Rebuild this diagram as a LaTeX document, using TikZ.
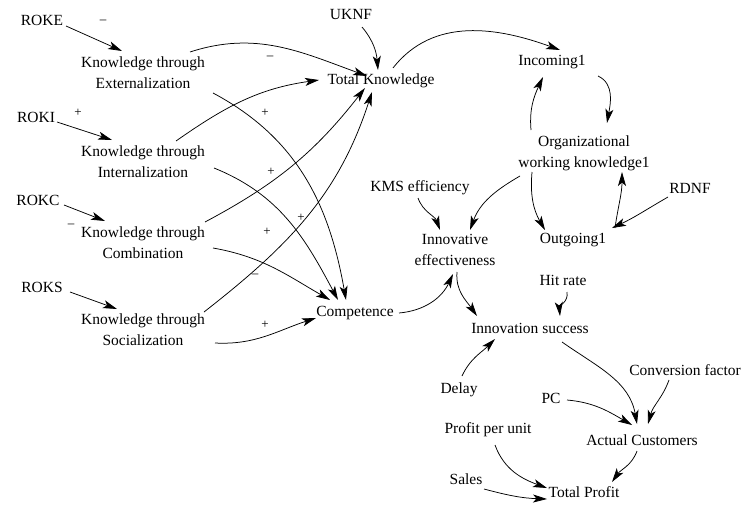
\documentclass[tikz,border=0pt]{standalone}
\usepackage{fontspec}
\setmainfont{Liberation Serif}
\usetikzlibrary{arrows.meta,calc}
\begin{document}
\begin{tikzpicture}[x=1pt,y=1pt,
  lbl/.style={inner sep=1pt,align=center,font=\fontsize{15.5}{21}\selectfont},
  pol/.style={inner sep=0pt,font=\fontsize{13}{13}\selectfont},
  arr/.style={-{Stealth[length=14pt,width=8pt,inset=3.5pt]},line width=0.75pt}]
\useasboundingbox[fill=white] (0,0) rectangle (741,-506);
% nodes
\node[lbl] (roke) at (42,-20) {ROKE};
\node[lbl] (kte) at (143,-73) {Knowledge through\\Externalization};
\node[lbl] (uknf) at (351,-15) {UKNF};
\node[lbl] (tk) at (381,-81) {Total Knowledge};
\node[lbl] (inc) at (552,-62) {Incoming1};
\node[lbl] (roki) at (36,-117) {ROKI};
\node[lbl] (kti) at (143,-162) {Knowledge through\\Internalization};
\node[lbl] (org) at (584,-153) {Organizational\\working knowledge1};
\node[lbl] (kms) at (420,-188) {KMS efficiency};
\node[lbl] (rdnf) at (690,-188) {RDNF};
\node[lbl] (rokc) at (38,-200) {ROKC};
\node[lbl] (ktc) at (143,-243) {Knowledge through\\Combination};
\node[lbl] (ie) at (455,-250) {Innovative\\effectiveness};
\node[lbl] (out) at (573,-240) {Outgoing1};
\node[lbl] (hit) at (563,-280) {Hit rate};
\node[lbl] (roks) at (42,-287) {ROKS};
\node[lbl] (comp) at (355,-313) {Competence};
\node[lbl] (kts) at (143,-330) {Knowledge through\\Socialization};
\node[lbl] (is) at (530,-328) {Innovation success};
\node[lbl] (conv) at (685,-370) {Conversion factor};
\node[lbl] (delay) at (459,-390) {Delay};
\node[lbl] (pc) at (551,-398) {PC};
\node[lbl] (ppu) at (488,-430) {Profit per unit};
\node[lbl] (ac) at (642,-440) {Actual Customers};
\node[lbl] (sales) at (466,-479) {Sales};
\node[lbl] (tp) at (584,-492) {Total Profit};
% polarity labels
\node[pol] (p1) at (103,-22) {--};
\node[pol] (p2) at (78,-113) {+};
\node[pol] (p3) at (270,-58) {--};
\node[pol] (p4) at (265,-113) {+};
\node[pol] (p5) at (71,-226) {--};
\node[pol] (p6) at (271,-172) {+};
\node[pol] (p7) at (301,-218) {+};
\node[pol] (p8) at (267,-232) {+};
\node[pol] (p9) at (255,-276) {--};
\node[pol] (p10) at (265,-325) {+};
% straight inputs
\draw[arr] ($(roke)+(24,-6)$) -- ($(kte)+(-21,22)$);
\draw[arr] ($(roki)+(21,-5)$) -- ($(kti)+(-31,22)$);
\draw[arr] ($(rokc)+(26,-5)$) -- ($(ktc)+(-38,22)$);
\draw[arr] ($(roks)+(28,-5)$) -- ($(kts)+(-26,21)$);
% to total knowledge
\draw[arr] ($(uknf)+(11,-12)$) to[out=-50,in=95] ($(tk)+(-3,11)$);
\draw[arr] ($(kte)+(47,21)$) to[out=18,in=160] ($(tk)+(-14,5)$);
\draw[arr] ($(kti)+(33,21)$) to[out=35,in=188] ($(tk)+(-62,1)$);
\draw[arr] ($(ktc)+(62,21)$) to[out=28,in=-128] ($(tk)+(-16,-7)$);
\draw[arr] ($(kts)+(61,18)$) to[out=38,in=-108] ($(tk)+(-9,-11)$);
% to competence
\draw[arr] ($(kte)+(70,-20)$) to[out=-28,in=100] ($(comp)+(-9,13)$);
\draw[arr] ($(kti)+(71,-6)$) to[out=-22,in=118] ($(comp)+(-17,13)$);
\draw[arr] ($(ktc)+(70,-5)$) to[out=-10,in=150] ($(comp)+(-25,13)$);
\draw[arr] ($(kts)+(72,-13)$) to[out=-3,in=198] ($(comp)+(-39,-5)$);
% knowledge loop
\draw[arr] ($(tk)+(12,13)$) to[out=52,in=160] ($(inc)+(8,12)$);
\draw[arr] ($(inc)+(46,-14)$) to[out=-25,in=80] ($(org)+(23,30)$);
\draw[arr] ($(org)+(-53,23)$) to[out=95,in=-115] ($(inc)+(-9,-15)$);
\draw[arr] ($(org)+(-52,-19)$) to[out=-95,in=120] ($(out)+(-28,10)$);
\draw[arr] ($(out)+(42,12)$) to[out=82,in=-90] ($(org)+(38,-19)$);
\draw[arr] ($(rdnf)+(-22,-9)$) to[out=-150,in=25] ($(out)+(39,12)$);
% innovation
\draw[arr] ($(kms)+(-2,-10)$) to[out=-70,in=110] ($(ie)+(-15,20)$);
\draw[arr] ($(org)+(-64,-23)$) to[out=-150,in=70] ($(ie)+(15,20)$);
\draw[arr] ($(ie)+(2,-22)$) to[out=-95,in=125] ($(is)+(-53,12)$);
\draw[arr] ($(comp)+(44,0)$) to[out=5,in=-115] ($(ie)+(-2,-24)$);
\draw[arr] ($(hit)+(4,-12)$) to[out=-80,in=95] ($(is)+(30,12)$);
\draw[arr] ($(delay)+(3,14)$) to[out=65,in=-135] ($(is)+(-35,-11)$);
\draw[arr] ($(is)+(32,-14)$) to[out=-35,in=100] ($(ac)+(-5,16)$);
\draw[arr] ($(pc)+(16,-2)$) to[out=-5,in=150] ($(ac)+(-10,15)$);
\draw[arr] ($(conv)+(-16,-10)$) to[out=-110,in=75] ($(ac)+(6,16)$);
\draw[arr] ($(ac)+(-5,-11)$) to[out=-110,in=55] ($(tp)+(28,10)$);
\draw[arr] ($(ppu)+(7,-15)$) to[out=-70,in=160] ($(tp)+(-37,4)$);
\draw[arr] ($(sales)+(18,-10)$) to[out=-15,in=178] ($(tp)+(-37,-7)$);
\end{tikzpicture}
\end{document}
